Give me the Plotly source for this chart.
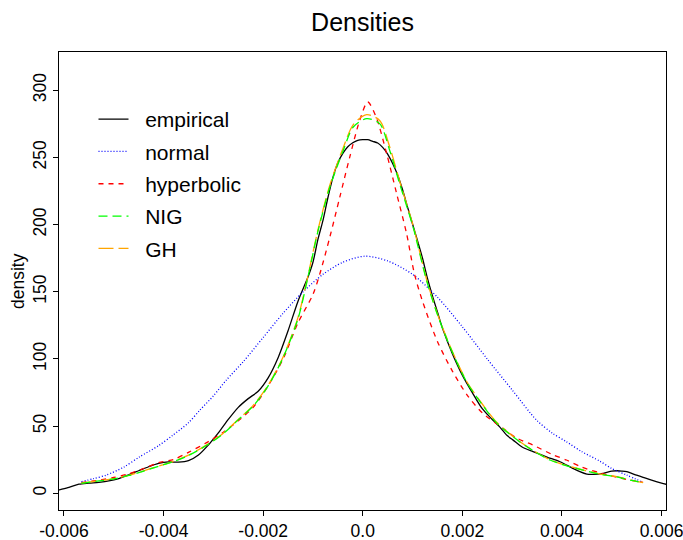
import plotly.graph_objects as go

# ---- data ----
emp_x = [-0.0062, -0.0061, -0.0059, -0.0057, -0.0055, -0.0053, -0.0051, -0.0049, -0.0047, -0.0045,
         -0.0043, -0.0041, -0.0039, -0.0037, -0.0035, -0.0033, -0.0031, -0.0029, -0.0027, -0.0025,
         -0.0023, -0.0021, -0.0019, -0.0017, -0.0015, -0.0013, -0.0011, -0.0010, -0.0009, -0.0008,
         -0.0007, -0.0006, -0.0005, -0.0004, -0.0003, -0.0002, -0.0001, 0.0000, 0.0001, 0.0002,
         0.0003, 0.0004, 0.0005, 0.0006, 0.0007, 0.0008, 0.0009, 0.0010, 0.0011, 0.0012,
         0.0013, 0.0014, 0.0015, 0.0016, 0.0018, 0.0020, 0.0022, 0.0024, 0.0026, 0.00275,
         0.0029, 0.00302, 0.0032, 0.00342, 0.0037, 0.00396, 0.0042, 0.00436, 0.0045, 0.00463,
         0.00483, 0.0050, 0.0051, 0.0052, 0.0053, 0.0055, 0.00563, 0.0058, 0.0060, 0.0062]
emp_y = [1.5, 2.5, 4.5, 6.8, 7.6, 8.2, 9.2, 11.0, 13.8, 16.8,
         19.8, 22.3, 23.4, 23.2, 24.3, 28.5, 36.0, 45.0, 55.0, 64.0,
         70.5, 76.0, 86.0, 101.0, 121.0, 143.0, 161.0, 172.0, 189.0, 203.0,
         220.0, 235.0, 246.0, 253.0, 258.0, 261.0, 262.8, 263.3, 263.2, 262.0,
         260.8, 257.5, 252.5, 245.5, 237.0, 226.0, 213.0, 200.5, 188.0, 175.0,
         160.0, 147.0, 135.0, 123.0, 104.0, 88.0, 75.0, 63.0, 55.0, 49.5,
         43.0, 39.6, 34.5, 31.0, 27.0, 23.5, 19.0, 16.1, 14.3, 14.1,
         14.9, 16.5, 16.8, 16.6, 16.1, 13.5, 11.9, 9.8, 7.6, 5.8]

norm_x = [-0.00565, -0.0054, -0.00515, -0.0048, -0.00448, -0.0041, -0.00381, -0.0035, -0.00327, -0.0030,
          -0.00274, -0.0024, -0.0020, -0.0016, -0.0012, -0.0008, -0.0004, 0.00004, 0.0005, 0.0010,
          0.0015, 0.0020, 0.0025, 0.0030, 0.00349, 0.0038, 0.00409, 0.0044, 0.00476, 0.0050,
          0.0053, 0.00563]
norm_y = [8.6, 11.0, 13.6, 19.5, 27.2, 35.5, 43.4, 52.5, 62.0, 72.5,
          84.3, 98.0, 116.0, 134.0, 150.0, 163.0, 172.0, 176.5, 173.0, 163.0,
          146.0, 124.0, 100.0, 77.0, 54.5, 45.0, 38.4, 31.0, 24.0, 18.5,
          13.6, 8.2]

hyp_x = [-0.00565, -0.0053, -0.0050, -0.0047, -0.0044, -0.0041, -0.0038, -0.0035, -0.0031, -0.0028,
         -0.0025, -0.0022, -0.0019, -0.0016, -0.0013, -0.0010, -0.00086, -0.00066, -0.00046, -0.00026,
         -0.00006, 0.0001, 0.00027, 0.00048, 0.00068, 0.00088, 0.00104, 0.0012, 0.0015, 0.0018,
         0.0021, 0.0024, 0.00282, 0.0031, 0.00342, 0.0038, 0.00409, 0.0044, 0.00476, 0.0051,
         0.0054, 0.00563]
hyp_y = [8.0, 9.8, 11.8, 14.6, 18.5, 22.8, 25.2, 30.5, 38.5, 45.5,
         54.0, 64.0, 80.0, 100.0, 127.0, 148.0, 163.6, 190.9, 220.6, 250.4,
         277.7, 291.3, 280.0, 252.9, 223.2, 193.4, 163.0, 143.0, 113.0, 91.0,
         73.0, 60.0, 48.3, 41.0, 35.9, 29.0, 24.8, 19.5, 15.3, 12.0,
         9.6, 8.2]

nig_x = [-0.00565, -0.0053, -0.0050, -0.0047, -0.0044, -0.0041, -0.0038, -0.0035, -0.0031, -0.0028,
         -0.00247, -0.0022, -0.0019, -0.0016, -0.0013, -0.0011, -0.0009, -0.00066, -0.00039, -0.00019,
         0.00008, 0.00034, 0.00054, 0.00074, 0.00101, 0.00128, 0.0015, 0.0018, 0.0021, 0.0024,
         0.0027, 0.00315, 0.0035, 0.00376, 0.0041, 0.00442, 0.0048, 0.0051, 0.0054, 0.00563]
nig_y = [7.4, 9.2, 10.8, 13.3, 16.6, 20.2, 23.7, 28.2, 36.5, 44.5,
         55.8, 65.0, 80.0, 101.0, 130.0, 161.0, 195.0, 228.0, 255.4, 272.7,
         278.9, 275.2, 255.4, 230.6, 198.3, 158.7, 133.0, 105.0, 82.0, 66.0,
         52.0, 38.4, 30.0, 24.8, 20.5, 17.3, 14.0, 12.3, 9.6, 7.9]

gh_x = [-0.00565, -0.0053, -0.0050, -0.0047, -0.0044, -0.0041, -0.0038, -0.0035, -0.0031, -0.0028,
        -0.00247, -0.0022, -0.0019, -0.0016, -0.0013, -0.0011, -0.0009, -0.00066, -0.00039, -0.00019,
        0.00008, 0.00034, 0.00054, 0.00074, 0.00101, 0.00128, 0.0015, 0.0018, 0.0021, 0.0024,
        0.0027, 0.00315, 0.0035, 0.00376, 0.0041, 0.00442, 0.0048, 0.0051, 0.0054, 0.00563]
gh_y = [7.6, 9.3, 10.9, 13.4, 16.7, 20.3, 23.8, 28.4, 36.8, 44.8,
        56.0, 65.5, 80.5, 101.5, 131.0, 162.0, 196.0, 229.5, 257.5, 274.5,
        281.9, 277.5, 258.0, 232.5, 199.5, 159.5, 133.5, 105.5, 82.5, 66.5,
        52.5, 38.6, 30.2, 25.0, 20.6, 17.4, 14.1, 12.4, 9.7, 8.0]

x_tickvals = [-0.006, -0.004, -0.002, 0.0, 0.002, 0.004, 0.006]
x_ticktext = ["-0.006", "-0.004", "-0.002", "0.0", "0.002", "0.004", "0.006"]
y_tickvals = [0, 50, 100, 150, 200, 250, 300]
y_ticktext = ["0", "50", "100", "150", "200", "250", "300"]

FONT = "Liberation Sans, Arial, Helvetica, sans-serif"
NB = "\u00a0\u00a0"

fig = go.Figure()
series = [
    ("empirical", emp_x, emp_y, "#000000", "solid"),
    ("normal", norm_x, norm_y, "#0000FF", "1px,2px"),
    ("hyperbolic", hyp_x, hyp_y, "#FF0000", "5px,5px"),
    ("NIG", nig_x, nig_y, "#00FF00", "9px,5px"),
    ("GH", gh_x, gh_y, "#FFA500", "15px,5px"),
]
draw_order = [0, 1, 2, 4, 3]
for i in draw_order:
    name, xs, ys, col, dash = series[i]
    fig.add_trace(go.Scatter(
        x=xs, y=ys, mode="lines", name=NB + name, legendgroup=name, legendrank=i + 1,
        line=dict(color=col, width=1.3, dash=dash, shape="spline", smoothing=0.8),
    ))

L, R, T, B = 59, 17, 52, 30
PW, PH = 683 - L - R, 540 - T - B

fig.update_layout(
    width=683, height=540,
    margin=dict(l=L, r=R, t=T, b=B, autoexpand=False),
    paper_bgcolor="white", plot_bgcolor="white",
    font=dict(family=FONT, color="black", size=17.5),
    title=dict(text="Densities", x=0.5, xref="paper", xanchor="center",
               y=1 - 22 / 540, yref="container", yanchor="middle",
               font=dict(size=25, family=FONT, color="black")),
    showlegend=True,
    legend=dict(x=(93.5 - L) / PW, y=1 - (99 - T) / PH, xanchor="left", yanchor="top",
                bgcolor="rgba(0,0,0,0)", borderwidth=0, tracegroupgap=2,
                traceorder="grouped",
                font=dict(size=21, family=FONT, color="black")),
    annotations=[dict(text="density", xref="paper", yref="paper",
                      x=-(L - 18) / PW, y=0.5, xanchor="center", yanchor="middle",
                      textangle=-90, showarrow=False,
                      font=dict(size=17.5, family=FONT, color="black"))],
)
fig.update_xaxes(
    range=[-0.0061, 0.00609], tickvals=x_tickvals, ticktext=x_ticktext,
    showline=True, mirror=True, linecolor="black", linewidth=1,
    ticks="outside", ticklen=5, tickcolor="black", tickwidth=1,
    showgrid=False, zeroline=False, tickfont=dict(size=17.5),
    automargin=False, ticklabeloverflow="allow",
)
fig.update_yaxes(
    range=[-12.4, 328.5], tickvals=y_tickvals, ticktext=y_ticktext,
    showline=True, mirror=True, linecolor="black", linewidth=1,
    ticks="outside", ticklen=5, tickcolor="black", tickwidth=1,
    showgrid=False, zeroline=False, tickangle=-90, tickfont=dict(size=17.5),
    automargin=False, ticklabeloverflow="allow",
)

fig.write_html("out.html")
